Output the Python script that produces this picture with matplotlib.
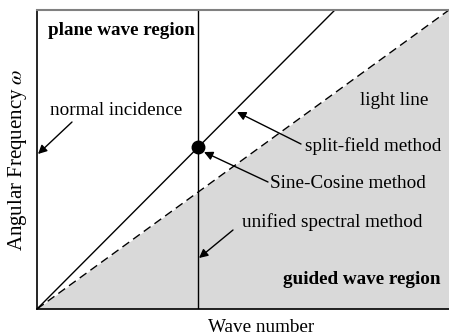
import matplotlib.pyplot as plt

plt.rcParams['font.family'] = ['Liberation Serif', 'DejaVu Serif']
plt.rcParams['mathtext.fontset'] = 'stix'

# dispersion diagram (normalised wave number / frequency)
light_line_k = [0.0, 1.0]
light_line_w = [0.0, 1.0]
split_line_k = [0.0, 0.723]
split_line_w = [0.0, 1.0]
normal_k = 0.391
cross_k = 0.391
cross_w = 0.541

fig = plt.figure(figsize=(4.49, 3.35), dpi=100)
ax = fig.add_axes([0.0824, 0.0776, 0.9176, 0.8925])
ax.set_xlim(0, 1)
ax.set_ylim(0, 1)

# guided wave region below the light line
ax.fill_between(light_line_k, light_line_w, 0, color='#d9d9d9', lw=0)
ax.plot(light_line_k, light_line_w, color='black', lw=1, ls=(0, (6, 3.5)))
ax.plot(split_line_k, split_line_w, color='black', lw=1)
ax.axvline(normal_k, color='black', lw=1)
ax.plot([cross_k], [cross_w], 'o', color='black', ms=9)

ax.set_xticks([])
ax.set_yticks([])
ax.spines['right'].set_visible(False)
ax.spines['top'].set_color('#808080')
ax.spines['top'].set_linewidth(1.5)
ax.spines['left'].set_linewidth(1.2)
ax.spines['bottom'].set_linewidth(1.2)

fs = 13.8
ax.set_xlabel('Wave number', fontsize=fs, labelpad=10)
ax.xaxis.set_label_coords(0.544, -0.035, transform=ax.transAxes)
ax.xaxis.label.set_va('top')
ax.set_ylabel(r'Angular Frequency $\omega$', fontsize=15, labelpad=6)


def px(x, y):
    # pixel position -> data coordinates
    return ((x - 37) / 412, (309 - y) / 299)


ax.text(*px(48, 30), 'plane wave region', fontsize=fs, fontweight='bold', va='center')
ax.text(*px(441, 279), 'guided wave region', fontsize=fs, fontweight='bold',
        va='center', ha='right')
ax.text(*px(428, 100), 'light line', fontsize=fs, va='center', ha='right')

arrow = dict(arrowstyle='-|>', color='black', lw=1, mutation_scale=13,
             shrinkA=0, shrinkB=0)
ax.text(*px(50, 110), 'normal incidence', fontsize=fs, va='center', ha='left')
ax.annotate('', xy=px(38, 154), xytext=px(72, 122), arrowprops=arrow)
ax.text(*px(305, 146), 'split-field method', fontsize=fs, va='center', ha='left')
ax.annotate('', xy=px(237, 112), xytext=px(301, 144), arrowprops=arrow)
ax.text(*px(270, 183), 'Sine-Cosine method', fontsize=fs, va='center', ha='left')
ax.annotate('', xy=px(204, 152), xytext=px(268, 182), arrowprops=arrow)
ax.text(*px(242, 222), 'unified spectral method', fontsize=fs, va='center', ha='left')
ax.annotate('', xy=px(199, 258), xytext=px(233, 230), arrowprops=arrow)

fig.savefig('out.png', dpi=100)
